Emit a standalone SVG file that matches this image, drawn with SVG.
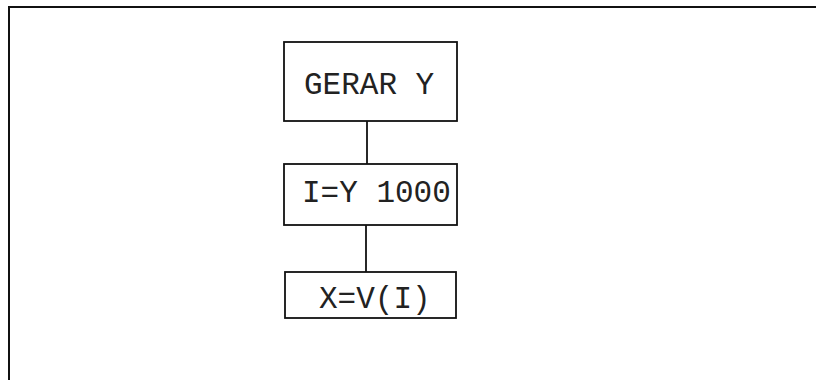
<svg xmlns="http://www.w3.org/2000/svg" width="816" height="380" viewBox="0 0 816 380">
<style>
.box{fill:none;stroke:#111;stroke-width:1.8}
.frame{fill:none;stroke:#111;stroke-width:2}
.conn{stroke:#111;stroke-width:1.8;fill:none}
.lbl{font-family:"Liberation Mono","Courier New",monospace;font-size:31px;fill:#222}
</style>
<rect width="816" height="380" fill="#fff"/>
<path class="frame" d="M9,380 V7 H816"/>
<g id="connectors">
<line class="conn" x1="367" y1="121" x2="367" y2="164"/>
<line class="conn" x1="366" y1="225" x2="366" y2="272"/>
</g>
<g id="node1">
<rect class="box" x="284" y="42" width="173" height="79"/>
<text class="lbl" x="304" y="94">GERAR Y</text>
</g>
<g id="node2">
<rect class="box" x="284" y="164" width="173" height="61"/>
<text class="lbl" x="302" y="202">I=Y 1000</text>
</g>
<g id="node3">
<rect class="box" x="285" y="272" width="171" height="46"/>
<text class="lbl" x="319" y="308">X=V(I)</text>
</g>
</svg>
